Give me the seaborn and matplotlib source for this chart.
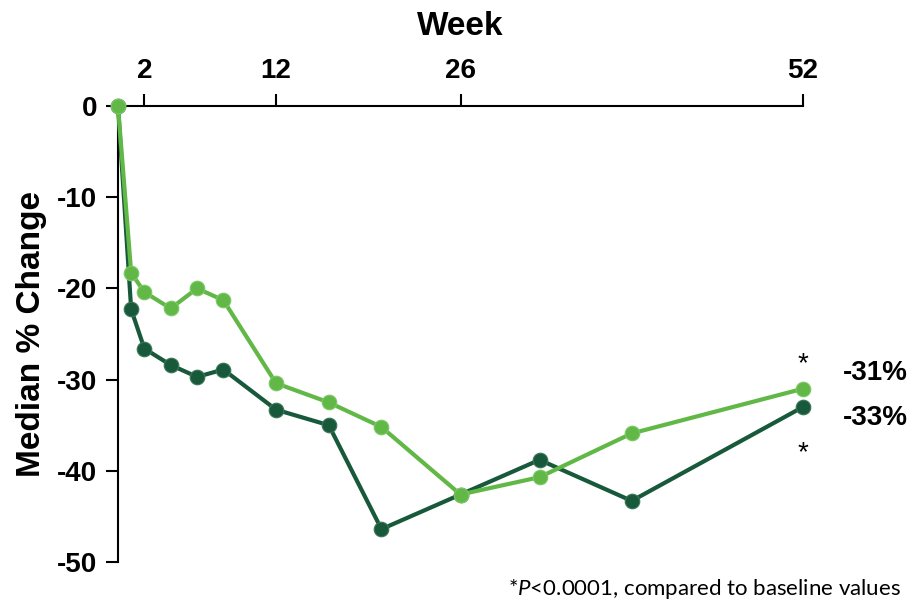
import matplotlib
matplotlib.use("Agg")
import matplotlib.pyplot as plt
import seaborn as sns
import pandas as pd

# Median % change from baseline by study week
weeks = [0, 1, 2, 4, 6, 8, 12, 16, 20, 26, 32, 39, 52]
dark_change = [0, -22.3, -26.6, -28.4, -29.7, -28.9, -33.3, -35.0, -46.4, -42.6, -38.8, -43.3, -33]
light_change = [0, -18.3, -20.4, -22.2, -20.0, -21.3, -30.4, -32.5, -35.2, -42.6, -40.7, -35.9, -31]
series_names = ["dark", "light"]
week_ticks = [2, 12, 26, 52]
y_ticks = [0, -10, -20, -30, -40, -50]
footnote = "*$\\mathit{P}$<0.0001, compared to baseline values"

DARK = "#17593a"
LIGHT = "#62b847"

sns.set_style("white")
plt.rcParams["font.family"] = ["Liberation Sans", "DejaVu Sans"]
plt.rcParams["mathtext.fontset"] = "custom"
plt.rcParams["mathtext.it"] = "Lato:italic"
plt.rcParams["mathtext.rm"] = "Lato"
for key in ("text.color", "axes.labelcolor", "xtick.color", "ytick.color", "axes.edgecolor"):
    plt.rcParams[key] = "black"

df = pd.DataFrame({
    "week": weeks * 2,
    "change": dark_change + light_change,
    "series": [series_names[0]] * len(weeks) + [series_names[1]] * len(weeks),
})

fig = plt.figure(figsize=(9.16, 6.0), dpi=100)
ax = fig.add_axes([118 / 916, 1 - 562 / 600, (803 - 118) / 916, (562 - 106) / 600])

sns.lineplot(
    data=df, x="week", y="change", hue="series",
    hue_order=series_names, palette={"dark": DARK, "light": LIGHT},
    marker="o", markersize=10.5, markeredgewidth=0.8,
    linewidth=3, legend=False, clip_on=False, zorder=3, ax=ax,
)
for line, col in zip(ax.lines, ["#3a7656", "#7cc866"]):
    line.set_markeredgecolor(col)

ax.set_xlim(0, 52)
ax.set_ylim(-50, 0)
ax.set_xticks(week_ticks)
ax.set_yticks(y_ticks)
ax.set_yticklabels([f"{v}" for v in y_ticks])

for side in ("right", "bottom"):
    ax.spines[side].set_visible(False)
for side in ("top", "left"):
    ax.spines[side].set_linewidth(1.5)
    ax.spines[side].set_color("black")

ax.xaxis.tick_top()
ax.tick_params(axis="x", top=True, bottom=False, labeltop=True, labelbottom=False,
               direction="out", length=9, width=1.5, pad=7, labelsize=20, colors="black")
ax.tick_params(axis="y", left=True, direction="out", length=9, width=1.5, pad=6,
               labelsize=20, colors="black")
for lab in ax.get_xticklabels() + ax.get_yticklabels():
    lab.set_fontweight("bold")

ax.xaxis.set_label_position("top")
ax.set_xlabel("Week", fontsize=24, fontweight="bold", color="black")
ax.xaxis.set_label_coords(0.5, (562 - 35) / 456)
ax.set_ylabel("Median % Change", fontsize=24, fontweight="bold", color="black")
ax.yaxis.set_label_coords((47 - 118) / 685, 0.5)

# End-of-study values and significance markers
ax.annotate("*", xy=(weeks[-1], light_change[-1]), xytext=(0, 18), textcoords="offset points",
            ha="center", va="center", fontsize=20, annotation_clip=False)
ax.annotate("*", xy=(weeks[-1], dark_change[-1]), xytext=(0, -33), textcoords="offset points",
            ha="center", va="center", fontsize=20, annotation_clip=False)
ax.annotate(f"{light_change[-1]:.0f}%", xy=(weeks[-1], light_change[-1]), xytext=(29, 11),
            textcoords="offset points", ha="left", va="center", fontsize=20,
            fontweight="bold", annotation_clip=False)
ax.annotate(f"{dark_change[-1]:.0f}%", xy=(weeks[-1], dark_change[-1]), xytext=(29, -8),
            textcoords="offset points", ha="left", va="center", fontsize=20,
            fontweight="bold", annotation_clip=False)

fig.text(901 / 916, 1 - 595 / 600, footnote, ha="right", va="baseline",
         fontsize=16, family="Lato", color="black")

fig.savefig("out.png", dpi=100)
